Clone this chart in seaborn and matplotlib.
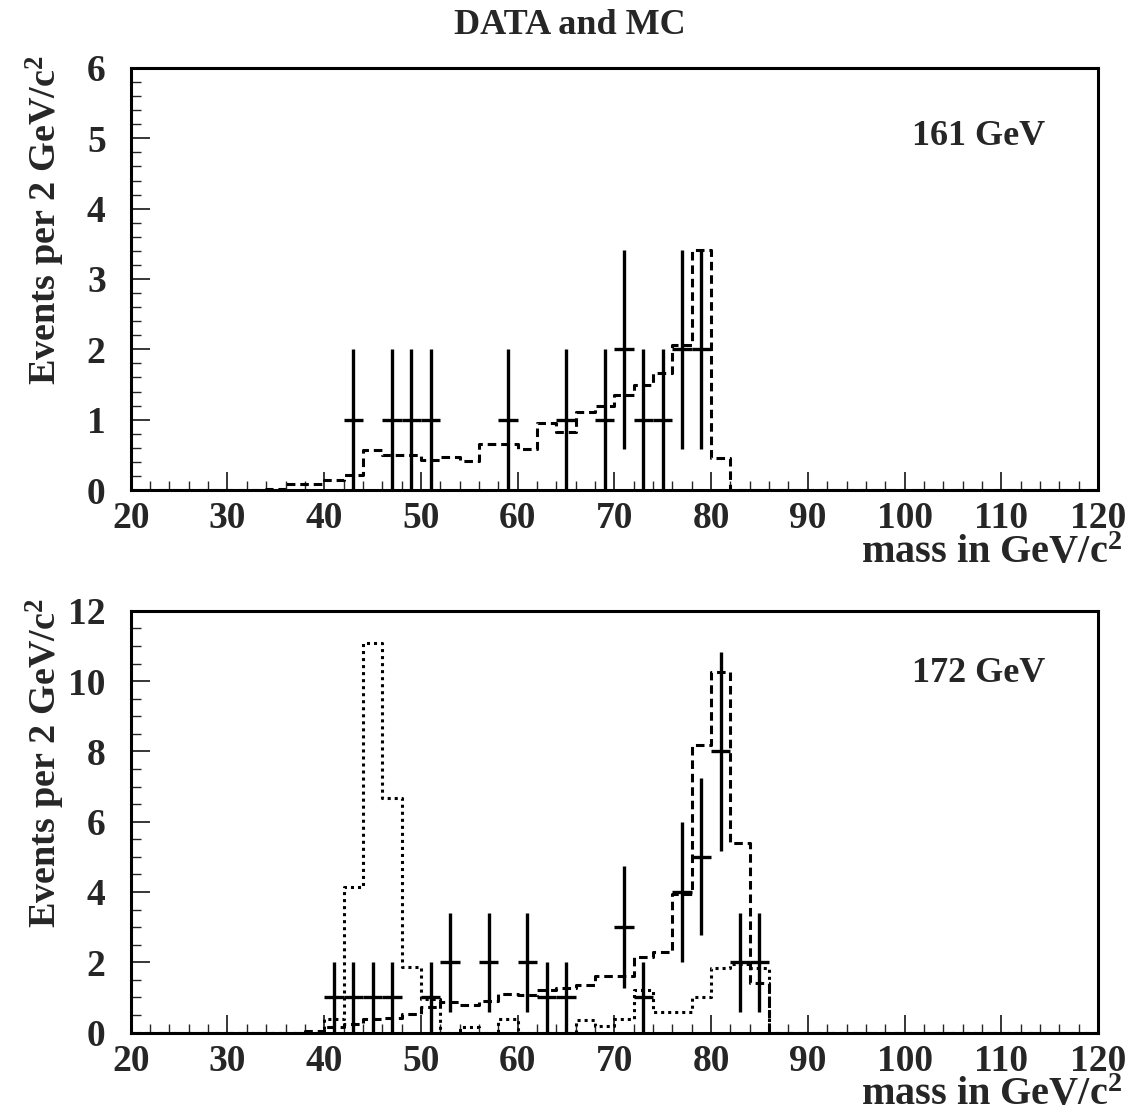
import numpy as np
import pandas as pd
import matplotlib
matplotlib.use("Agg")
import matplotlib.pyplot as plt
import seaborn as sns
from matplotlib.ticker import MultipleLocator

sns.set_theme(style="white")
plt.rcParams['font.family'] = ['Liberation Serif', 'DejaVu Serif']
plt.rcParams['font.weight'] = 'bold'
plt.rcParams['mathtext.fontset'] = 'custom'
plt.rcParams['mathtext.rm'] = 'Liberation Serif:bold'
plt.rcParams['mathtext.bf'] = 'Liberation Serif:bold'
plt.rcParams['mathtext.it'] = 'Liberation Serif:bold'

# ---------------- data ----------------
# MC histograms: 2 GeV bins, lower edges from 34 to 84 GeV (zero elsewhere)
mc_first_edge = 34
mc161_dashed = [0.02, 0.085, 0.085, 0.14, 0.22, 0.57, 0.50, 0.50, 0.43, 0.47,
                0.41, 0.65, 0.65, 0.58, 0.95, 0.83, 1.11, 1.20, 1.35, 1.49,
                1.67, 2.06, 3.41, 0.45, 0.0, 0.0]
mc172_dashed = [0.0, 0.0, 0.03, 0.15, 0.25, 0.39, 0.40, 0.53, 0.72, 0.87,
                0.79, 0.91, 1.11, 1.06, 1.20, 1.27, 1.36, 1.61, 1.61, 2.15,
                2.29, 3.95, 8.19, 10.27, 5.38, 1.42]
mc172_dotted = [0.0, 0.0, 0.0, 0.39, 4.15, 11.09, 6.68, 1.87, 0.95, 0.0,
                0.15, 0.0, 0.39, 0.0, 0.0, 0.0, 0.37, 0.19, 0.39, 1.20,
                0.58, 0.58, 1.01, 1.84, 1.96, 1.84]

# data points (bin centres, counts)
data161_mass = [43, 47, 49, 51, 59, 65, 69, 71, 73, 75, 77, 79]
data161_count = [1, 1, 1, 1, 1, 1, 1, 2, 1, 1, 2, 2]
data172_mass = [41, 43, 45, 47, 51, 53, 57, 61, 63, 65, 71, 73, 77, 79, 81, 83, 85]
data172_count = [1, 1, 1, 1, 1, 2, 2, 2, 1, 1, 3, 1, 4, 5, 8, 2, 2]

panel_labels = ["161 GeV", "172 GeV"]
title = "DATA and MC"
xlabel = r"mass in GeV/c$^{2}$"
ylabel = r"Events per 2 GeV/c$^{2}$"

x_min, x_max, bin_w = 20, 120, 2
edges = np.arange(x_min, x_max + bin_w, bin_w)
centers = edges[:-1] + bin_w / 2


def full_hist(vals):
    h = np.zeros(len(centers))
    i0 = int((mc_first_edge - x_min) / bin_w)
    h[i0:i0 + len(vals)] = vals
    return pd.DataFrame({"mass": centers, "w": h})


# ---------------- figure ----------------
fig = plt.figure(figsize=(11.33, 11.16), dpi=100)
ax1 = fig.add_axes([0.1154, 0.5609, 0.8537, 0.3782])
ax2 = fig.add_axes([0.1154, 0.0748, 0.8537, 0.3779])

LW = 2.2
dash_style = (0, (2.8, 1.6))
dot_style = (0, (1.0, 1.3))


def draw_hist(ax, vals, ls):
    sns.histplot(data=full_hist(vals), x="mass", weights="w",
                 binwidth=bin_w, binrange=(x_min, x_max),
                 element="step", fill=False, color="black", linewidth=LW,
                 linestyle=ls, ax=ax)


def draw_data(ax, m, c):
    m = np.asarray(m, float)
    c = np.asarray(c, float)
    ax.errorbar(m, c, xerr=bin_w / 2, yerr=np.sqrt(c), fmt="none",
                ecolor="black", elinewidth=2.4, capsize=0, zorder=5)


draw_hist(ax1, mc161_dashed, dash_style)
draw_data(ax1, data161_mass, data161_count)

draw_hist(ax2, mc172_dotted, dot_style)
draw_hist(ax2, mc172_dashed, dash_style)
draw_data(ax2, data172_mass, data172_count)

for ax, ymax, ymaj, ymin, lab, ly in [(ax1, 6, 1, 0.2, panel_labels[0], 0.818),
                                       (ax2, 12, 2, 0.5, panel_labels[1], 0.83)]:
    ax.set_xlim(x_min, x_max)
    ax.set_ylim(0, ymax)
    ax.set_xlabel("")
    ax.set_ylabel("")
    ax.xaxis.set_major_locator(MultipleLocator(10))
    ax.xaxis.set_minor_locator(MultipleLocator(2))
    ax.yaxis.set_major_locator(MultipleLocator(ymaj))
    ax.yaxis.set_minor_locator(MultipleLocator(ymin))
    ax.tick_params(axis="x", which="major", direction="in", length=13, width=1.3,
                   labelsize=27, pad=8, bottom=True, top=False)
    ax.tick_params(axis="x", which="minor", direction="in", length=6.5, width=1.0,
                   bottom=True, top=False)
    ax.tick_params(axis="y", which="major", direction="in", length=13.5, width=1.3,
                   labelsize=27, pad=18, left=True, right=False)
    ax.tick_params(axis="y", which="minor", direction="in", length=7, width=1.0,
                   left=True, right=False)
    for lbl in ax.get_xticklabels() + ax.get_yticklabels():
        lbl.set_fontweight("bold")
    for s in ax.spines.values():
        s.set_linewidth(2.2)
        s.set_color("black")
        s.set_visible(True)
    ax.grid(False)
    ax.text(0.945, ly, lab, transform=ax.transAxes, ha="right", va="baseline",
            fontsize=26, fontweight="bold")
    ax.text(1.025, -0.172, xlabel, transform=ax.transAxes, ha="right",
            va="baseline", fontsize=29, fontweight="bold")
    ax.text(-0.088, 1.03, ylabel, transform=ax.transAxes, ha="center",
            va="top", rotation=90, fontsize=27.5, fontweight="bold")

fig.text(0.503, 0.977, title, ha="center", va="center", fontsize=26,
         fontweight="bold")

fig.savefig("out.png", dpi=100, facecolor="white")
